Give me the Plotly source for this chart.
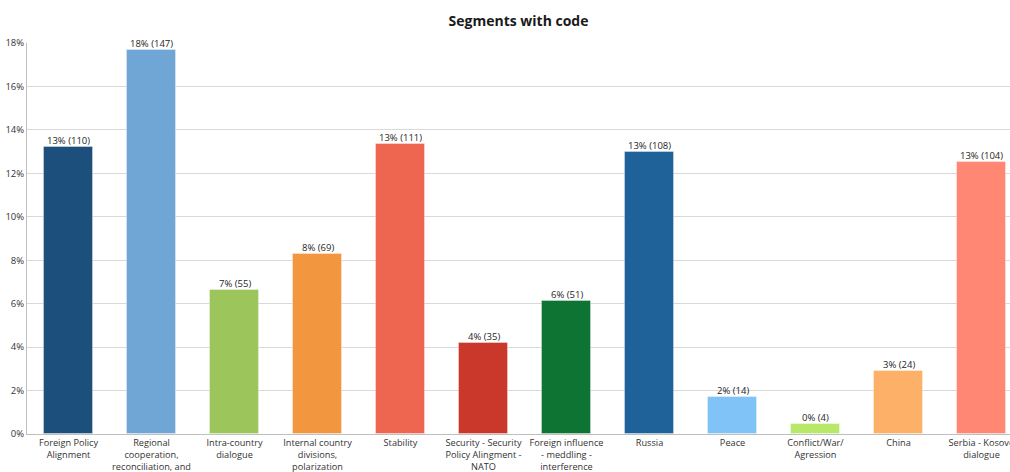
import plotly.graph_objects as go

categories = [
    "Foreign Policy<br>Alignment",
    "Regional<br>cooperation,<br>reconciliation, and",
    "Intra-country<br>dialogue",
    "Internal country<br>divisions,<br>polarization",
    "Stability",
    "Security - Security<br>Policy Alingment -<br>NATO",
    "Foreign influence<br>- meddling -<br>interference",
    "Russia",
    "Peace",
    "Conflict/War/<br>Agression",
    "China",
    "Serbia - Kosovo<br>dialogue",
]
counts = [110, 147, 55, 69, 111, 35, 51, 108, 14, 4, 24, 104]
colors = ["#1d4f7c", "#6fa6d5", "#9cc65b", "#f39640", "#ef6650", "#c9382a",
          "#0d7434", "#1f6299", "#80c4f7", "#b7e86a", "#fdb067", "#ff8774"]
y_ticks = [0, 2, 4, 6, 8, 10, 12, 14, 16, 18]

total = sum(counts)
percents = [c / total * 100 for c in counts]
labels = [f"{int(p + 0.5)}% ({c})" for p, c in zip(percents, counts)]
x = list(range(len(categories)))

fig = go.Figure(go.Bar(
    x=x, y=percents,
    marker=dict(color=colors, line=dict(color="rgba(255,255,255,0.35)", width=1)),
    width=0.59,
))

for xi, p, lab in zip(x, percents, labels):
    fig.add_annotation(x=xi, y=p, text=lab, showarrow=False, yanchor="bottom",
                       yshift=-2, font=dict(size=9.5, color="#262626", family="Open Sans"))

fig.update_layout(
    width=1010, height=472,
    margin=dict(l=27, r=0, t=43, b=38, autoexpand=False),
    paper_bgcolor="white", plot_bgcolor="white",
    showlegend=False,
    title=dict(text="<b>Segments with code</b>", x=0.5, xref="paper", y=0.955, yanchor="middle",
               font=dict(size=14, color="#1a1a1a", family="Open Sans")),
    font=dict(family="Open Sans", size=10, color="#333333"),
    bargap=0,
)
fig.update_xaxes(
    range=[-0.5, 11.343], tickvals=x, ticktext=categories, automargin=False,
    showline=True, linecolor="#bfbfbf", linewidth=1, showgrid=False,
    ticks="", ticklabelstandoff=0,
    tickfont=dict(size=9.2, color="#333333"), tickangle=0,
    ticklabeloverflow="allow",
)
fig.update_yaxes(
    range=[0, 18], tickvals=y_ticks, ticktext=[f"{t}%" for t in y_ticks], automargin=False,
    showgrid=True, gridcolor="#d9d9d9", gridwidth=1,
    showline=True, linecolor="#bfbfbf", linewidth=1, zeroline=False,
    ticks="", tickfont=dict(size=9.5, color="#333333"),
)

fig.write_html("out.html")
